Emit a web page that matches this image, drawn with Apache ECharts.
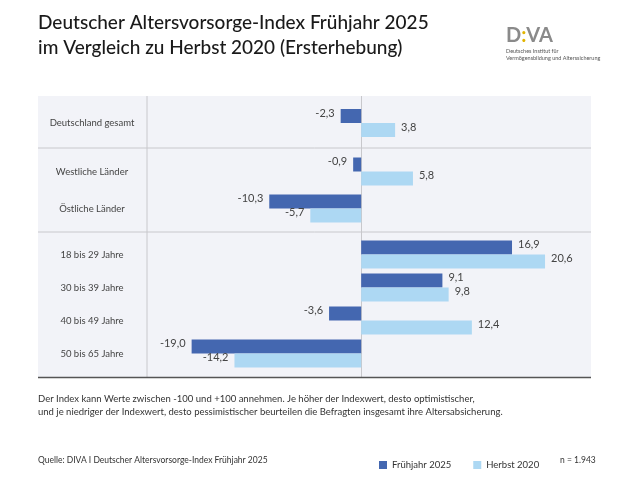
<!DOCTYPE html>
<html><head><meta charset="utf-8">
<script src="https://cdn.jsdelivr.net/npm/echarts@6/dist/echarts.min.js"></script>
<style>html,body{margin:0;padding:0;background:#fff}#c{width:630px;height:482px}</style>
</head><body><div id="c"></div>
<script>
// Data
let groups = [
    ["Deutschland gesamt"],
    ["Westliche Länder", "Östliche Länder"],
    ["18 bis 29 Jahre", "30 bis 39 Jahre", "40 bis 49 Jahre", "50 bis 65 Jahre"]
];
let fruehjahr_2025 = [[-2.3], [-0.9, -10.3], [16.9, 9.1, -3.6, -19.0]];
let herbst_2020 = [[3.8], [5.8, -5.7], [20.6, 9.8, 12.4, -14.2]];
let series_names = ["Frühjahr 2025", "Herbst 2020"];

// Layout
let font = "Lato, 'Open Sans', sans-serif";
let col_dark = "#4467b0";
let col_light = "#add8f3";
let grid_boxes = [[96, 150], [153, 227], [238, 370]];
let x_min = -24, x_max = 25.75;

let chart = echarts.init(document.getElementById("c"));

function fmt(v) { return v.toFixed(1).replace(".", ","); }
function to_data(arr) {
    return arr.map(function (v) {
        return {value: v, label: {position: v < 0 ? "left" : "right"}};
    });
}

let grids = [], xAxes = [], yAxes = [], series = [];
grid_boxes.forEach(function (b, i) {
    grids.push({left: 147, right: 39, top: b[0], height: b[1] - b[0]});
    xAxes.push({gridIndex: i, type: "value", min: x_min, max: x_max, show: false});
    yAxes.push({
        gridIndex: i, type: "category", inverse: true, data: groups[i],
        axisLine: {show: false},
        axisTick: {show: false},
        axisLabel: {align: "center", margin: 55, color: "#444", fontSize: 9.5, fontFamily: font}
    });
    [fruehjahr_2025[i], herbst_2020[i]].forEach(function (vals, k) {
        series.push({
            type: "bar", name: series_names[k], xAxisIndex: i, yAxisIndex: i,
            barWidth: 14, barGap: "0%",
            itemStyle: {color: k === 0 ? col_dark : col_light},
            label: {show: true, distance: 6, offset: [0, -3], color: "#444", fontSize: 11, fontFamily: font,
                formatter: function (p) { return fmt(p.value); }},
            data: to_data(vals),
            z: 3
        });
    });
});

let option = {
    backgroundColor: "#fff",
    animation: false,
    grid: grids, xAxis: xAxes, yAxis: yAxes, series: series,
    legend: {
        left: 374, top: 455, itemWidth: 8, itemHeight: 8, itemGap: 22,
        icon: "rect", textStyle: {fontSize: 9.5, color: "#333", fontFamily: font},
        data: series_names
    },
    graphic: [
        {type: "rect", shape: {x: 38, y: 96, width: 553, height: 281}, style: {fill: "#f2f3f8"}, z: -10},
        {type: "line", shape: {x1: 147, y1: 96, x2: 147, y2: 377}, style: {stroke: "#c8c8cc", lineWidth: 1}, z: -5},
        {type: "line", shape: {x1: 361.5, y1: 96, x2: 361.5, y2: 377}, style: {stroke: "#c8c8cc", lineWidth: 1}, z: -5},
        {type: "line", shape: {x1: 38, y1: 148, x2: 591, y2: 148}, style: {stroke: "#c8c8cc", lineWidth: 1}, z: -5},
        {type: "line", shape: {x1: 38, y1: 232, x2: 591, y2: 232}, style: {stroke: "#c8c8cc", lineWidth: 1}, z: -5},
        {type: "line", shape: {x1: 38, y1: 377.5, x2: 591, y2: 377.5}, style: {stroke: "#555", lineWidth: 1.5}},
        {type: "text", left: 38, top: 10, style: {text: "Deutscher Altersvorsorge-Index Frühjahr 2025\nim Vergleich zu Herbst 2020 (Ersterhebung)",
            fill: "#1a1a1a", font: "500 19px " + font, lineHeight: 25}},
        {type: "text", left: 506, top: 26, style: {text: "D{y|:}VA", fill: "#8a8a8a", font: "bold 20px " + font,
            rich: {y: {fill: "#e2b400", font: "bold 20px " + font}}}},
        {type: "text", left: 506, top: 48, style: {text: "Deutsches Institut für\nVermögensbildung und Alterssicherung",
            fill: "#555", font: "5.5px " + font, lineHeight: 7}},
        {type: "text", left: 38, top: 392, style: {text: "Der Index kann Werte zwischen -100 und +100 annehmen. Je höher der Indexwert, desto optimistischer,\nund je niedriger der Indexwert, desto pessimistischer beurteilen die Befragten insgesamt ihre Altersabsicherung.",
            fill: "#333", font: "9.5px " + font, lineHeight: 13}},
        {type: "text", left: 38, top: 456, style: {text: "Quelle: DIVA I Deutscher Altersvorsorge-Index Frühjahr 2025", fill: "#333", font: "8.5px " + font}},
        {type: "text", left: 560, top: 456, style: {text: "n = 1.943", fill: "#333", font: "8.5px " + font}}
    ]
};
chart.setOption(option, true);
</script></body></html>
